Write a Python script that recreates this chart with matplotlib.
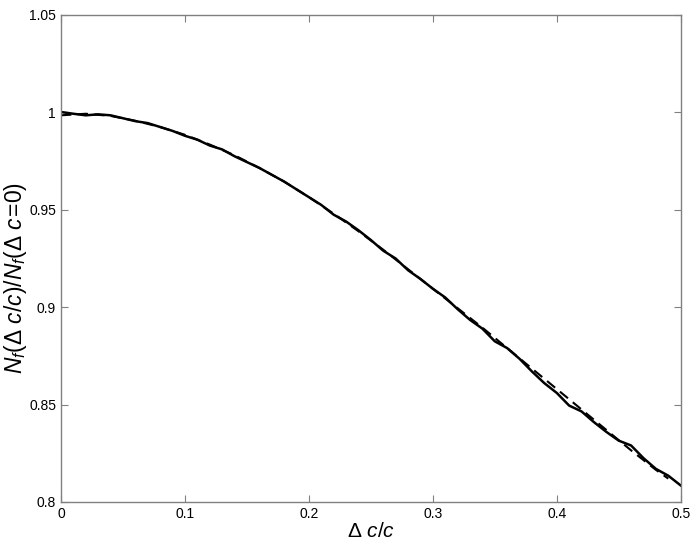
import matplotlib
matplotlib.use('Agg')
import matplotlib.pyplot as plt
import numpy as np

# solid (simulated) curve
x_solid = np.arange(0, 0.501, 0.01)
y_solid = [1.0002, 0.9993, 0.9985, 0.9990, 0.9985, 0.9970, 0.9955, 0.9945, 0.9925, 0.9905,
           0.9880, 0.9860, 0.9830, 0.9810, 0.9775, 0.9745, 0.9715, 0.9680, 0.9645, 0.9605,
           0.9565, 0.9525, 0.9475, 0.9440, 0.9395, 0.9345, 0.9290, 0.9250, 0.9190, 0.9145,
           0.9095, 0.9050, 0.8990, 0.8935, 0.8890, 0.8825, 0.8790, 0.8735, 0.8670, 0.8610,
           0.8560, 0.8495, 0.8465, 0.8410, 0.8360, 0.8315, 0.8290, 0.8225, 0.8170, 0.8135,
           0.8085]

# dashed (fit) curve
x_dash = [0.00, 0.02, 0.04, 0.06, 0.08, 0.10, 0.12, 0.14, 0.16, 0.18, 0.20, 0.22, 0.24,
          0.26, 0.28, 0.30, 0.32, 0.34, 0.36, 0.38, 0.40, 0.42, 0.44, 0.46, 0.48, 0.49]
y_dash = [0.9985, 0.9993, 0.9982, 0.9957, 0.9925, 0.9885, 0.9835, 0.9780, 0.9715, 0.9645,
          0.9565, 0.9480, 0.9390, 0.9295, 0.9195, 0.9095, 0.8995, 0.8895, 0.8790, 0.8685,
          0.8580, 0.8475, 0.8370, 0.8265, 0.8165, 0.8120]

plt.rcParams['font.family'] = ['Liberation Sans', 'DejaVu Sans']
plt.rcParams['mathtext.fontset'] = 'custom'
plt.rcParams['mathtext.it'] = 'Liberation Sans:italic'
plt.rcParams['mathtext.rm'] = 'Liberation Sans'

fig = plt.figure(figsize=(6.96, 5.45), dpi=100)
ax = fig.add_axes([0.0876, 0.0789, 0.8904, 0.8936])

ax.plot(x_solid, y_solid, color='black', lw=1.8)
ax.plot(x_dash, y_dash, color='black', lw=1.5, ls=(0, (5, 3)))

ax.set_xlim(0, 0.5)
ax.set_ylim(0.8, 1.05)
ax.set_xticks([0, 0.1, 0.2, 0.3, 0.4, 0.5])
ax.set_xticklabels(['0', '0.1', '0.2', '0.3', '0.4', '0.5'])
ax.set_yticks([0.8, 0.85, 0.9, 0.95, 1.0, 1.05])
ax.set_yticklabels(['0.8', '0.85', '0.9', '0.95', '1', '1.05'])

for s in ax.spines.values():
    s.set_color('#808080')
    s.set_linewidth(1.0)
ax.tick_params(direction='in', top=True, right=True, length=5, color='#808080',
               labelsize=10, labelcolor='black')

ax.set_xlabel(r'$\Delta\ c/c$', fontsize=15, labelpad=1)
ax.set_ylabel(r'$N_f(\Delta\ c/c)/N_f(\Delta\ c\!=\!0)$', fontsize=16.5)
ax.yaxis.set_label_coords(-0.052, 0.46)

fig.savefig('out.png', dpi=100)
